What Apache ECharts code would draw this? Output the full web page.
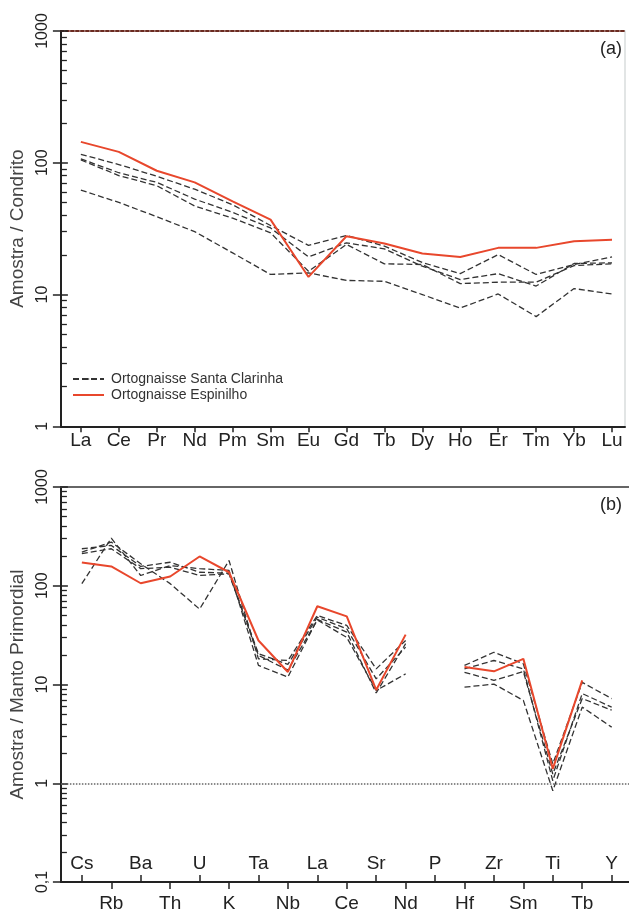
<!DOCTYPE html>
<html>
<head>
<meta charset="utf-8">
<script src="https://cdn.jsdelivr.net/npm/echarts@6/dist/echarts.min.js"></script>
<style>
html,body{margin:0;padding:0;background:#fff;}
#chart{width:629px;height:913px;}
</style>
</head>
<body>
<div id="chart"></div>
<script>
// ---- Data: (a) REE normalised to chondrite ----
const reeCats = ['La','Ce','Pr','Nd','Pm','Sm','Eu','Gd','Tb','Dy','Ho','Er','Tm','Yb','Lu'];
const reeEspinilho = [144,121,87,71,51,37,13.6,27.7,24.4,20.5,19.3,22.6,22.6,25.4,26.0];
const reeSC1 = [116,97,79,63,48,33.4,23.6,28.1,23.3,17.5,14.4,20.1,14.2,16.9,19.3];
const reeSC2 = [107,84,71,53,42,32,19.3,24.7,22.2,16.4,13.0,14.4,11.6,17.2,17.4];
const reeSC3 = [105,80,67,47,38,29.4,15.0,24.0,17.1,16.9,12.1,12.4,12.4,16.6,17.1];
const reeSC4 = [62,50,39,30,20.7,14.2,14.6,12.8,12.6,10.0,7.9,10.1,6.8,11.1,10.1];

// ---- Data: (b) spider normalised to primitive mantle ----
const spCats = ['Cs','Rb','Ba','Th','U','K','Ta','Nb','La','Ce','Sr','Nd','P','Hf','Zr','Sm','Ti','Tb','Y'];
const spEspinilho = [172,157,106,124,198,137,27.9,13.4,62,49,8.8,32,null,15.0,13.6,18.2,1.4,11.0,null];
const spSC1 = [105,303,127,160,149,143,15.6,11.9,45.6,33.9,8.2,25.9,null,9.4,10.1,6.9,0.84,5.9,3.7];
const spSC2 = [219,277,167,105,58,180,18.2,17.5,50,39.6,14.4,27.9,null,15.6,21.2,16.2,1.57,10.5,7.2];
const spSC3 = [237,256,157,173,137,134,20.5,16,48,36.7,11.4,23.9,null,14.4,17.5,14.4,1.06,8.1,5.9];
const spSC4 = [211,237,149,154,127,132,19.7,14,45,30,8.7,12.8,null,13.3,11.0,13.5,1.24,7.2,5.5];

const SC = 'Ortognaisse Santa Clarinha';
const ES = 'Ortognaisse Espinilho';
const FONT = "'Liberation Sans', Arial, Helvetica, sans-serif";
const RED = '#e8472c';
const DARK = '#333';

const toXY = arr => arr.map((v, i) => [i, v == null ? '-' : v]);
const idx = n => Array.from({length: n}, (_, i) => i);
function minorTicks(lo, hi) {
  const out = [];
  for (let d = lo; d < hi; d++) {
    for (let k = 2; k <= 9; k++) out.push(+(k * Math.pow(10, d)).toPrecision(6));
  }
  return out;
}
function majorTicks(lo, hi) {
  const out = [];
  for (let d = lo; d <= hi; d++) out.push(+Math.pow(10, d).toPrecision(6));
  return out;
}
const yFmt = v => {
  const n = Number(v);
  const e = Math.round(Math.log10(n));
  return e < 0 ? '0,1' : String(Math.round(Math.pow(10, e)));
};

const chart = echarts.init(document.getElementById('chart'), null, {renderer: 'canvas'});

const grids = [
  {left: 60, top: 31, right: 4, height: 395.3},
  {left: 60, top: 487, right: 0, height: 395.3}
];

const xTopMin = -0.526, xTopMax = 14.342;
const xBotMin = -0.712, xBotMax = 18.589;
const evens = idx(spCats.length).filter(i => i % 2 === 0);
const odds = idx(spCats.length).filter(i => i % 2 === 1);

const xAxes = [
  { // 0 top chart bottom axis
    gridIndex: 0, type: 'value', min: xTopMin, max: xTopMax, position: 'bottom',
    axisLine: {onZero: false, lineStyle: {color: '#222', width: 2}},
    axisTick: {show: true, inside: false, length: 6, customValues: idx(reeCats.length), lineStyle: {color: '#222', width: 1.5}},
    axisLabel: {customValues: idx(reeCats.length), formatter: v => reeCats[Math.round(v)], fontSize: 19, margin: 5, color: '#222', fontFamily: FONT},
    splitLine: {show: false}
  },
  { // 1 top chart top frame
    gridIndex: 0, type: 'value', min: xTopMin, max: xTopMax, position: 'top',
    axisLine: {onZero: false, lineStyle: {color: '#6b2a20', width: 2, type: [3, 2]}},
    axisTick: {show: false}, axisLabel: {show: false}, splitLine: {show: false}
  },
  { // 2 bottom chart, inside labels
    gridIndex: 1, type: 'value', min: xBotMin, max: xBotMax, position: 'bottom',
    axisLine: {onZero: false, lineStyle: {color: '#222', width: 2}},
    axisTick: {show: true, inside: true, length: 7, customValues: evens, lineStyle: {color: '#222', width: 1.5}},
    axisLabel: {inside: true, customValues: evens, formatter: v => spCats[Math.round(v)], fontSize: 19, margin: 9, color: '#222', fontFamily: FONT},
    splitLine: {show: false}
  },
  { // 3 bottom chart, outside labels
    gridIndex: 1, type: 'value', min: xBotMin, max: xBotMax, position: 'bottom', offset: 0,
    axisLine: {show: false, onZero: false},
    axisTick: {show: true, inside: false, length: 7, customValues: odds, lineStyle: {color: '#222', width: 1.5}},
    axisLabel: {customValues: odds, formatter: v => spCats[Math.round(v)], fontSize: 19, margin: 12, color: '#222', fontFamily: FONT},
    splitLine: {show: false}
  },
  { // 4 bottom chart top frame
    gridIndex: 1, type: 'value', min: xBotMin, max: xBotMax, position: 'top',
    axisLine: {onZero: false, lineStyle: {color: '#666', width: 2}},
    axisTick: {show: false}, axisLabel: {show: false}, splitLine: {show: false}
  }
];

function yAxisSet(gridIndex, lo, hi, name) {
  const min = Math.pow(10, lo), max = Math.pow(10, hi);
  return [
    {
      gridIndex, type: 'log', logBase: 10, min, max, position: 'left',
      name, nameLocation: 'middle', nameGap: 32,
      nameTextStyle: {fontSize: 19, color: '#444', fontFamily: FONT},
      axisLine: {show: true, onZero: false, lineStyle: {color: '#222', width: 2}},
      axisTick: {show: true, inside: true, length: 7, lineStyle: {color: '#222', width: 1.5}},
      axisLabel: {rotate: 90, fontSize: 16, margin: 10, color: '#222', fontFamily: FONT, formatter: yFmt},
      splitLine: {show: false}, minorTick: {show: false}
    },
    {
      gridIndex, type: 'log', logBase: 10, min, max, position: 'left',
      axisLine: {show: false, onZero: false},
      axisTick: {show: true, inside: true, length: 6, customValues: minorTicks(lo, hi), lineStyle: {color: '#222', width: 1.3}},
      axisLabel: {show: false}, splitLine: {show: false}
    },
    {
      gridIndex, type: 'log', logBase: 10, min, max, position: 'left',
      axisLine: {show: false, onZero: false},
      axisTick: {show: true, inside: false, length: 8, customValues: majorTicks(lo, hi), lineStyle: {color: '#222', width: 1.5}},
      axisLabel: {show: false}, splitLine: {show: false}
    }
  ];
}

const yAxes = [
  ...yAxisSet(0, 0, 3, 'Amostra / Condrito'),          // 0,1,2
  {gridIndex: 0, type: 'value', position: 'right', axisLine: {show: true, onZero: false, lineStyle: {color: '#d8dcdc', width: 1.5}},
   axisTick: {show: false}, axisLabel: {show: false}, splitLine: {show: false}},  // 3
  ...yAxisSet(1, -1, 3, 'Amostra / Manto Primordial')  // 4,5,6
];

const dashStyle = {type: [6, 3], width: 1.3, color: DARK};
const redStyle = {type: 'solid', width: 2, color: RED};
const dashIcon = 'path://M0,0h6v2h-6z M9,0h6v2h-6z M18,0h6v2h-6z M27,0h4v2h-4z';
const solidIcon = 'path://M0,0h31v2h-31z';

function line(name, data, xi, yi, style, extra) {
  const isRed = style.color === RED;
  return Object.assign({
    type: 'line', name, data: toXY(data), xAxisIndex: xi, yAxisIndex: yi,
    symbol: 'none', showSymbol: false, connectNulls: false, silent: true,
    legendIcon: isRed ? solidIcon : dashIcon,
    lineStyle: style, itemStyle: {color: style.color}, z: isRed ? 5 : 3
  }, extra || {});
}

const series = [
  line(SC, reeSC1, 0, 0, dashStyle),
  line(SC, reeSC2, 0, 0, dashStyle),
  line(SC, reeSC3, 0, 0, dashStyle),
  line(SC, reeSC4, 0, 0, dashStyle),
  line(ES, reeEspinilho, 0, 0, redStyle),
  line(SC, spSC1, 2, 4, dashStyle, {
    markLine: {silent: true, symbol: ['none', 'none'], label: {show: false},
      lineStyle: {type: 'dotted', color: '#666', width: 1.5}, data: [{yAxis: 1}]}
  }),
  line(SC, spSC2, 2, 4, dashStyle),
  line(SC, spSC3, 2, 4, dashStyle),
  line(SC, spSC4, 2, 4, dashStyle),
  line(ES, spEspinilho, 2, 4, redStyle)
];

chart.setOption({
  animation: false,
  backgroundColor: '#fff',
  textStyle: {fontFamily: FONT},
  title: [
    {text: '(a)', right: 7, top: 40, padding: 0, textStyle: {fontSize: 18, fontWeight: 'normal', color: '#222', fontFamily: FONT}},
    {text: '(b)', right: 7, top: 496, padding: 0, textStyle: {fontSize: 18, fontWeight: 'normal', color: '#222', fontFamily: FONT}}
  ],
  legend: {
    orient: 'vertical', left: 72, top: 372, padding: 0,
    itemWidth: 31, itemHeight: 2, itemGap: 2,
    data: [SC, ES],
    textStyle: {fontSize: 14, color: '#333', fontFamily: FONT, padding: [0, 0, 0, 2]}
  },
  grid: grids,
  xAxis: xAxes,
  yAxis: yAxes,
  series
});
</script>
</body>
</html>
